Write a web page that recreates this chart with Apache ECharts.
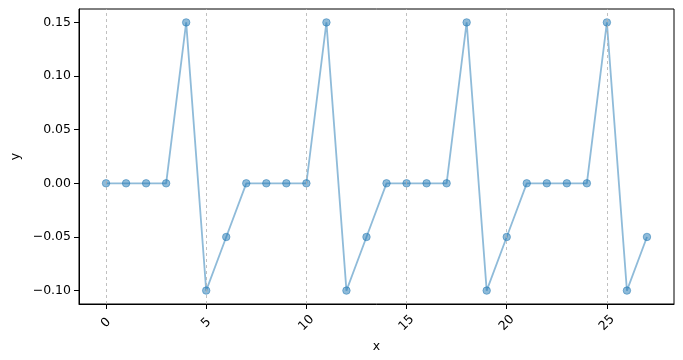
<!DOCTYPE html>
<html>
<head>
<meta charset="utf-8">
<script src="https://cdn.jsdelivr.net/npm/echarts@6/dist/echarts.min.js"></script>
<style>html,body{margin:0;padding:0;background:#fff;}#c{width:683px;height:360px;}</style>
</head>
<body>
<div id="c"></div>
<script>
const xValues = [0,1,2,3,4,5,6,7,8,9,10,11,12,13,14,15,16,17,18,19,20,21,22,23,24,25,26,27];
const yValues = [0,0,0,0,0.15,-0.1,-0.05, 0,0,0,0,0.15,-0.1,-0.05, 0,0,0,0,0.15,-0.1,-0.05, 0,0,0,0,0.15,-0.1,-0.05];
const xTicks = [0,5,10,15,20,25];
const yTicks = [-0.1,-0.05,0,0.05,0.1,0.15];

const points = xValues.map((x,i)=>[x,yValues[i]]);
const font = 'DejaVu Sans';
const chart = echarts.init(document.getElementById('c'));
chart.setOption({
  animation:false,
  backgroundColor:'#fff',
  grid:{left:79,right:9,top:9,bottom:56,outerBoundsMode:'none',containLabel:false,show:true,borderColor:'#000',borderWidth:1,backgroundColor:'transparent'},
  xAxis:{
    type:'value',min:-1.35,max:28.35,
    name:'x',nameLocation:'middle',nameGap:31,
    nameTextStyle:{color:'#000',fontFamily:font,fontSize:12.5},
    axisLine:{onZero:false,lineStyle:{color:'#000',width:1}},
    axisTick:{show:true,length:5,lineStyle:{color:'#000'},customValues:xTicks},
    axisLabel:{customValues:xTicks,rotate:45,align:'center',verticalAlign:'middle',margin:19,color:'#000',fontFamily:font,fontSize:12.5},
    splitLine:{show:false}
  },
  yAxis:{
    type:'value',min:-0.1125,max:0.1625,
    name:'y',nameLocation:'middle',nameGap:57,
    nameTextStyle:{color:'#000',fontFamily:font,fontSize:12.5},
    axisLine:{show:true,onZero:false,lineStyle:{color:'#000',width:1}},
    axisTick:{show:true,length:5,lineStyle:{color:'#000'},customValues:yTicks},
    axisLabel:{customValues:yTicks,margin:8,color:'#000',fontFamily:font,fontSize:12.5,
      formatter:v=>(v< -1e-9?'\u2212':'')+Math.abs(v).toFixed(2)},
    splitLine:{show:false}
  },
  series:[
    {type:'line',data:[],z:1,silent:true,
     markLine:{silent:true,symbol:'none',label:{show:false},
       lineStyle:{color:'#b0b0b0',type:[3,3],width:0.8},
       data:xTicks.map(v=>({xAxis:v}))}},
    {type:'line',data:points,z:3,
     lineStyle:{color:'rgba(31,119,180,0.5)',width:1.8},
     symbol:'circle',symbolSize:7.5,showAllSymbol:true,
     itemStyle:{color:'rgba(31,119,180,0.5)',borderColor:'rgba(31,119,180,0.5)',borderWidth:1}}
  ]
});
</script>
</body>
</html>
